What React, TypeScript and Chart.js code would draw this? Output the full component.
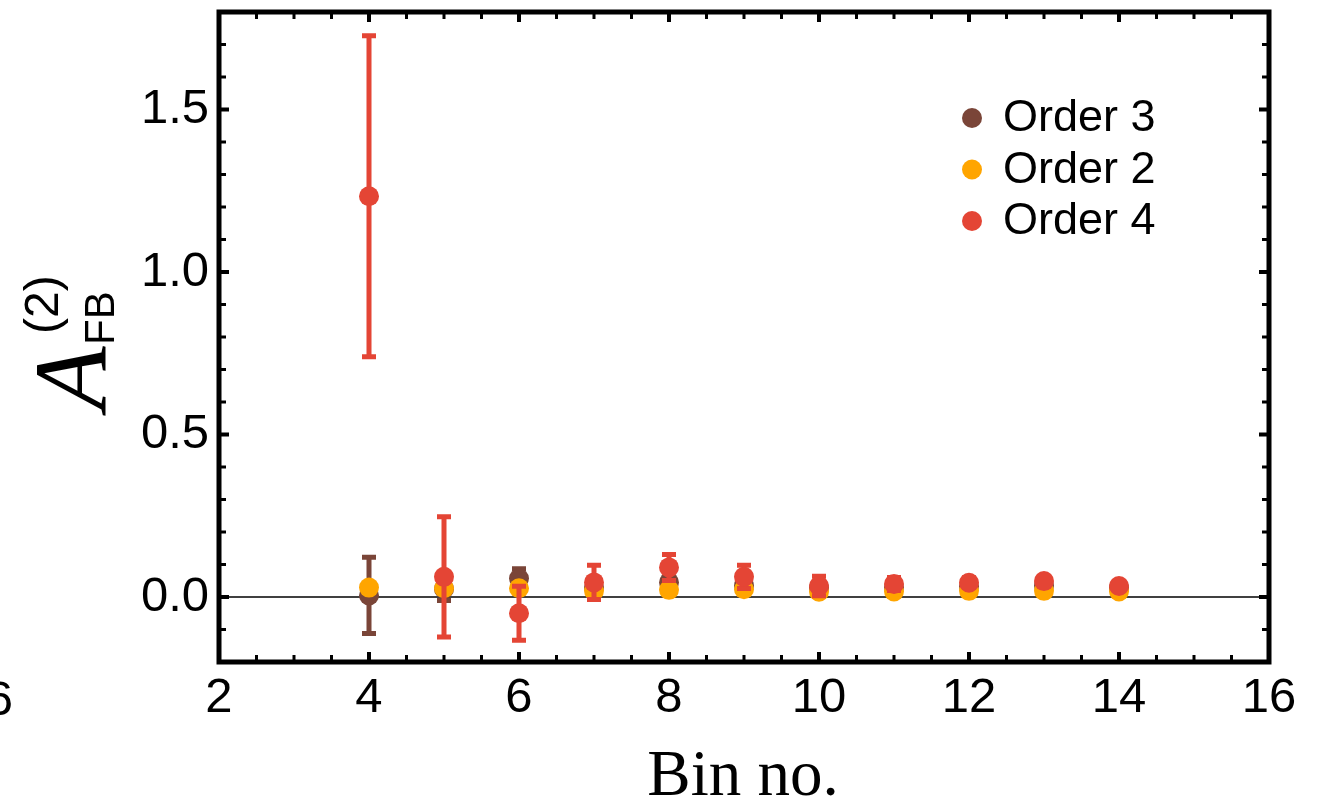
import React, { useEffect, useRef } from "react";
import { Chart, registerables } from "chart.js";

Chart.register(...registerables);

// ---- data ----
const bins = [4, 5, 6, 7, 8, 9, 10, 11, 12, 13, 14];
const seriesLabels = ["Order 3", "Order 2", "Order 4"];
const seriesColors = ["#7a4538", "#ffa500", "#e44535"];
const order3Values = [0.005, 0.025, 0.057, 0.03, 0.045, 0.035, 0.028, 0.03, 0.033, 0.035, 0.028];
const order3Errors = [0.117, 0.036, 0.03, 0.015, 0.012, 0.012, 0.01, 0.01, 0.01, 0.01, 0.01];
const order2Values = [0.029, 0.027, 0.027, 0.019, 0.022, 0.024, 0.016, 0.017, 0.019, 0.019, 0.017];
const order2Errors = [0.004, 0.004, 0.004, 0.004, 0.004, 0.004, 0.004, 0.004, 0.004, 0.004, 0.004];
const order4Values = [1.233, 0.062, -0.05, 0.045, 0.091, 0.062, 0.034, 0.04, 0.044, 0.049, 0.034];
const order4Errors = [0.494, 0.185, 0.083, 0.053, 0.04, 0.036, 0.03, 0.02, 0.015, 0.01, 0.01];
const xMin = 2;
const xMax = 16;
const yMin = -0.2;
const yMax = 1.8;
const xTitle = "Bin no.";

const seriesValues = [order3Values, order2Values, order4Values];
const seriesErrors = [order3Errors, order2Errors, order4Errors];

const isMult = (v: number, m: number) => Math.abs(v / m - Math.round(v / m)) < 1e-6;

const decorPlugin = {
  id: "decor",
  beforeDatasetsDraw(chart: any) {
    const { ctx, chartArea, scales } = chart;
    const y0 = scales.y.getPixelForValue(0);
    ctx.save();
    ctx.strokeStyle = "#000";
    ctx.lineWidth = 1.5;
    ctx.beginPath();
    ctx.moveTo(chartArea.left, y0);
    ctx.lineTo(chartArea.right, y0);
    ctx.stroke();
    ctx.restore();
  },
  beforeDatasetDraw(chart: any, args: any) {
    const { ctx, scales } = chart;
    const i = args.index;
    const vals = seriesValues[i];
    const errs = seriesErrors[i];
    ctx.save();
    ctx.strokeStyle = seriesColors[i];
    ctx.lineWidth = 5;
    ctx.lineCap = "butt";
    bins.forEach((b, k) => {
      const px = scales.x.getPixelForValue(b);
      const yt = scales.y.getPixelForValue(vals[k] + errs[k]);
      const yb = scales.y.getPixelForValue(vals[k] - errs[k]);
      ctx.beginPath();
      ctx.moveTo(px, yt);
      ctx.lineTo(px, yb);
      ctx.moveTo(px - 7, yt);
      ctx.lineTo(px + 7, yt);
      ctx.moveTo(px - 7, yb);
      ctx.lineTo(px + 7, yb);
      ctx.stroke();
    });
    ctx.restore();
  },
  afterDraw(chart: any) {
    const { ctx, chartArea, scales } = chart;
    const { left, right, top, bottom } = chartArea;
    ctx.save();
    // ticks
    ctx.strokeStyle = "#000";
    scales.x.ticks.forEach((t: any) => {
      const v = t.value;
      if (Math.abs(v - xMin) < 1e-6 || Math.abs(v - xMax) < 1e-6) return;
      const major = isMult(v, 2);
      const len = major ? 10 : 7;
      const px = scales.x.getPixelForValue(v);
      ctx.lineWidth = major ? 4 : 3;
      ctx.beginPath();
      ctx.moveTo(px, bottom);
      ctx.lineTo(px, bottom - len);
      ctx.moveTo(px, top);
      ctx.lineTo(px, top + len);
      ctx.stroke();
    });
    scales.y.ticks.forEach((t: any) => {
      const v = t.value;
      if (Math.abs(v - yMin) < 1e-6 || Math.abs(v - yMax) < 1e-6) return;
      const major = isMult(v, 0.5);
      const len = major ? 10 : 7;
      const py = scales.y.getPixelForValue(v);
      ctx.lineWidth = major ? 4 : 3;
      ctx.beginPath();
      ctx.moveTo(left, py);
      ctx.lineTo(left + len, py);
      ctx.moveTo(right, py);
      ctx.lineTo(right - len, py);
      ctx.stroke();
    });
    // frame
    ctx.lineWidth = 5;
    ctx.lineJoin = "miter";
    ctx.strokeRect(left, top, right - left, bottom - top);

    // legend
    seriesLabels.forEach((lab, i) => {
      const cy = 118 + i * 51.5;
      ctx.fillStyle = seriesColors[i];
      ctx.beginPath();
      ctx.arc(972, cy, 10, 0, Math.PI * 2);
      ctx.fill();
      ctx.fillStyle = "#000";
      ctx.font = "45px 'Liberation Sans', Arial, sans-serif";
      ctx.textAlign = "left";
      ctx.textBaseline = "alphabetic";
      ctx.fillText(lab, 1003, 131 + i * 51.5);
    });

    // x title
    ctx.fillStyle = "#000";
    ctx.font = "65px 'Liberation Serif', 'Times New Roman', serif";
    ctx.textAlign = "center";
    ctx.textBaseline = "alphabetic";
    ctx.fillText(xTitle, (left + right) / 2 - 1, 795);

    // stray label from neighbouring panel
    ctx.font = "49px 'Liberation Sans', Arial, sans-serif";
    ctx.textAlign = "right";
    ctx.fillText("6", 13, 715);

    // y title
    ctx.save();
    ctx.rotate(-Math.PI / 2);
    ctx.textAlign = "left";
    ctx.font = "italic 104px 'Liberation Serif', 'Times New Roman', serif";
    ctx.fillText("A", -410, 106);
    ctx.font = "42px 'Liberation Sans', Arial, sans-serif";
    ctx.fillText("FB", -345, 114);
    ctx.font = "48px 'Liberation Sans', Arial, sans-serif";
    ctx.fillText("(2)", -334, 58);
    ctx.restore();

    ctx.restore();
  },
};

export default function App() {
  const ref = useRef<HTMLCanvasElement>(null);
  useEffect(() => {
    document.body.style.margin = "0";
    const canvas = ref.current!;
    const datasets = seriesLabels.map((lab, i) => ({
      label: lab,
      data: bins.map((b, k) => ({ x: b, y: seriesValues[i][k] })),
      backgroundColor: seriesColors[i],
      borderColor: seriesColors[i],
      pointRadius: 10,
      pointHoverRadius: 10,
      pointBorderWidth: 0,
      showLine: false,
      order: 3 - i,
    }));
    const fixPad = (scale: any) => {
      scale.paddingTop = 0;
      scale.paddingBottom = 0;
      scale.paddingLeft = 0;
      scale.paddingRight = 0;
    };
    const chart = new Chart(canvas, {
      type: "scatter",
      data: { datasets },
      options: {
        responsive: false,
        maintainAspectRatio: false,
        animation: false,
        events: [],
        layout: { padding: { left: 0, right: 50, top: 12, bottom: 0 } },
        plugins: { legend: { display: false }, tooltip: { enabled: false } },
        scales: {
          x: {
            type: "linear",
            min: xMin,
            max: xMax,
            grid: { display: false, drawTicks: false },
            border: { display: false },
            ticks: {
              stepSize: 0.5,
              autoSkip: false,
              maxRotation: 0,
              minRotation: 0,
              padding: 7,
              color: "#000",
              font: { size: 49, family: "'Liberation Sans', Arial, sans-serif" },
              callback: (v: any) => (isMult(Number(v), 2) ? String(Math.round(Number(v))) : ""),
            },
            afterFit: (scale: any) => {
              scale.height = 144;
              fixPad(scale);
            },
          },
          y: {
            type: "linear",
            min: yMin,
            max: yMax,
            grid: { display: false, drawTicks: false },
            border: { display: false },
            ticks: {
              stepSize: 0.1,
              autoSkip: false,
              padding: 10,
              color: "#000",
              font: { size: 49, family: "'Liberation Sans', Arial, sans-serif" },
              callback: (v: any) => (isMult(Number(v), 0.5) ? Number(v).toFixed(1) : ""),
            },
            afterFit: (scale: any) => {
              scale.width = 219;
              fixPad(scale);
            },
          },
        },
      },
      plugins: [decorPlugin],
    });
    return () => chart.destroy();
  }, []);
  return (
    <div style={{ position: "fixed", left: 0, top: 0, width: 1319, height: 806, background: "#fff" }}>
      <canvas ref={ref} width={1319} height={806} style={{ display: "block", width: 1319, height: 806 }} />
    </div>
  );
}
